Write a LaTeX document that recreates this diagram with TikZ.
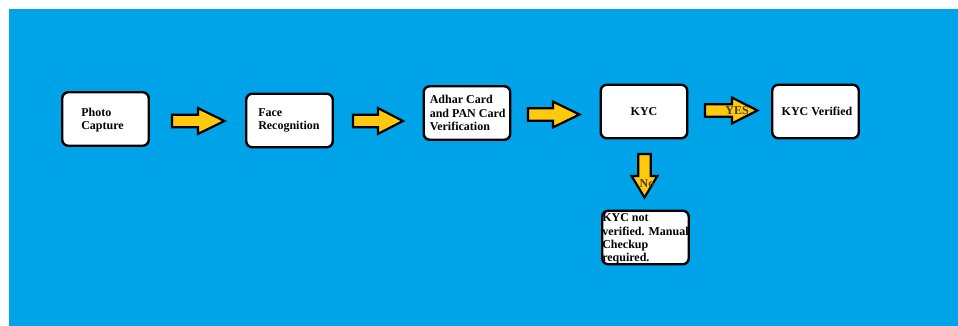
\documentclass[tikz,border=0pt]{standalone}
\usepackage{fontspec}
\setmainfont{Liberation Serif}
\definecolor{bg}{RGB}{0,162,232}
\definecolor{gold}{RGB}{255,201,14}
\definecolor{lbl}{RGB}{70,60,20}
\begin{document}
\begin{tikzpicture}[x=1pt,y=-1pt,
  box/.style={draw=black, line width=2.4pt, fill=white, rounded corners=6pt,
    minimum width=86.5pt, minimum height=53.5pt, inner sep=0pt},
  txt/.style={font=\bfseries\fontsize{12}{13.3}\selectfont, align=left, inner sep=0pt},
  barrow/.style={draw=black, line width=2.2pt, fill=gold, line join=miter},
  albl/.style={font=\bfseries\fontsize{12}{13}\selectfont, text=lbl, inner sep=0pt}
]
\useasboundingbox (0,0) rectangle (958,326);
\fill[white] (0,0) rectangle (958,326);
\fill[bg] (9,9) rectangle (958,326);

% boxes
\node[box] (pc)  at (105.5,119)   {};
\node[box] (fr)  at (289.5,120.5) {};
\node[box] (ad)  at (467,113)     {};
\node[box] (kyc) at (644,111.5)   {};
\node[box] (kv)  at (815.5,111.5) {};
\node[box] (nv)  at (645.5,237.5) {};

% texts
\node[txt, anchor=west] (pct) at ([xshift=20pt,yshift=-1pt]pc.west) {Photo\\Capture};
\node[txt, anchor=west] (frt) at ([xshift=13pt]fr.west) {Face\\Recognition};
\node[txt, anchor=west] (adt) at ([xshift=7pt]ad.west) {Adhar Card\\and PAN Card\\Verification};
\node[txt] (kyct) at (kyc.center) {KYC};
\node[txt] (kvt) at (817,111.5) {KYC Verified};
\node[txt, anchor=west] (nvt) at ([xshift=1pt,yshift=-1.5pt]nv.west) {KYC not\\verified. Manual\\Checkup\\required.};

% block arrows (tail x, head base x, tip x, centre y)
\newcommand{\rarrow}[4]{%
  \draw[barrow] (#1,#4-6.2) -- (#2,#4-6.2) -- (#2,#4-12.9) -- (#3,#4)
    -- (#2,#4+12.9) -- (#2,#4+6.2) -- (#1,#4+6.2) -- cycle;}
\rarrow{172}{198}{224.5}{121}
\rarrow{353}{378}{403}{121}
\rarrow{528}{553}{579.5}{114.5}
\rarrow{705}{732}{757.5}{110.5}
% downward arrow
\draw[barrow] (644.5-6.2,154) -- (644.5-6.2,176) -- (644.5-12.9,176) -- (644.5,197.5)
  -- (644.5+12.9,176) -- (644.5+6.2,176) -- (644.5+6.2,154) -- cycle;

% arrow labels
\node[albl] (yes) at (737,111) {YES};
\node[albl] (no) at (647,184) {No};
\end{tikzpicture}
\end{document}
